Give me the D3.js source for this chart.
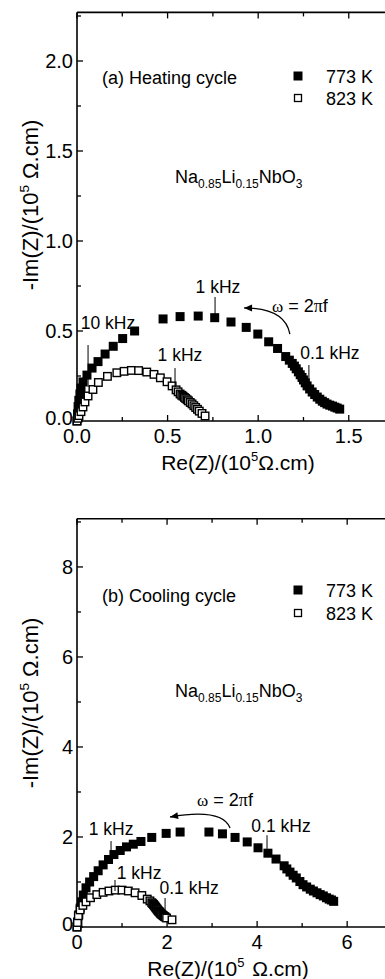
<!DOCTYPE html>
<html><head><meta charset="utf-8">
<script src="https://cdn.jsdelivr.net/npm/d3@7/dist/d3.min.js"></script>
<style>
html,body{margin:0;padding:0;background:#fff;}
svg text{font-family:"Liberation Sans",Arial,sans-serif;fill:#000;}
</style></head>
<body><svg id="c" width="385" height="979"></svg>
<script>
// ---- Data (Re, -Im) in 10^5 ohm.cm ----
const heat773 = [[0,0],[0.003,0.04],[0.006,0.08],[0.01,0.115],[0.016,0.15],[0.022,0.183],[0.033,0.217],[0.055,0.255],[0.083,0.294],[0.116,0.33],[0.155,0.372],[0.2,0.415],[0.252,0.458],[0.318,0.5],[0.475,0.567],[0.569,0.58],[0.669,0.583],[0.76,0.574],[0.85,0.55],[0.934,0.52],[0.998,0.483],[1.058,0.44],[1.107,0.403],[1.152,0.358],[1.172,0.338],[1.188,0.32],[1.2,0.305],[1.21,0.29],[1.222,0.273],[1.232,0.257],[1.242,0.242],[1.25,0.228],[1.26,0.212],[1.27,0.195],[1.284,0.178],[1.298,0.161],[1.312,0.147],[1.326,0.133],[1.34,0.121],[1.354,0.11],[1.367,0.102],[1.38,0.094],[1.395,0.088],[1.41,0.083],[1.423,0.077],[1.436,0.072],[1.45,0.066]];
const heat823 = [[0,0],[0.005,0.015],[0.011,0.03],[0.022,0.052],[0.033,0.078],[0.044,0.106],[0.061,0.139],[0.088,0.175],[0.118,0.214],[0.168,0.248],[0.22,0.268],[0.26,0.276],[0.3,0.281],[0.34,0.28],[0.385,0.272],[0.425,0.259],[0.46,0.24],[0.497,0.218],[0.525,0.195],[0.547,0.173],[0.558,0.162],[0.569,0.15],[0.578,0.143],[0.585,0.138],[0.593,0.131],[0.6,0.125],[0.608,0.118],[0.615,0.112],[0.625,0.103],[0.635,0.095],[0.645,0.085],[0.655,0.075],[0.665,0.065],[0.675,0.055],[0.69,0.042],[0.707,0.028]];
const cool773 = [[0,0],[0.02,0.12],[0.04,0.27],[0.07,0.42],[0.1,0.56],[0.14,0.71],[0.2,0.87],[0.28,1.0],[0.37,1.12],[0.47,1.25],[0.58,1.38],[0.7,1.5],[0.82,1.61],[0.96,1.7],[1.1,1.78],[1.25,1.84],[1.42,1.9],[1.66,1.99],[1.98,2.08],[2.29,2.11],[2.93,2.11],[3.23,2.07],[3.51,1.99],[3.78,1.89],[4.02,1.76],[4.24,1.64],[4.42,1.51],[4.6,1.36],[4.66,1.29],[4.73,1.22],[4.8,1.15],[4.87,1.09],[4.95,1.01],[5.02,0.94],[5.1,0.89],[5.18,0.84],[5.25,0.8],[5.33,0.76],[5.4,0.72],[5.47,0.69],[5.54,0.65],[5.6,0.62],[5.65,0.6],[5.7,0.57]];
const cool823 = [[0,0],[0.01,0.1],[0.03,0.25],[0.07,0.38],[0.13,0.48],[0.2,0.56],[0.3,0.65],[0.44,0.72],[0.58,0.77],[0.71,0.8],[0.85,0.82],[1.0,0.82],[1.14,0.8],[1.29,0.76],[1.44,0.7],[1.56,0.62],[1.62,0.58],[1.66,0.54],[1.68,0.52],[1.7,0.5],[1.715,0.48],[1.73,0.46],[1.745,0.44],[1.76,0.42],[1.775,0.4],[1.79,0.38],[1.805,0.36],[1.82,0.345],[1.835,0.33],[1.85,0.31],[1.865,0.295],[1.88,0.28],[1.9,0.265],[1.92,0.25],[1.94,0.235],[1.96,0.22],[1.99,0.2],[2.11,0.16]];

const xTicksA = [0,0.5,1.0,1.5], yTicksA = [0,0.5,1.0,1.5,2.0];
const xTicksB = [0,2,4,6], yTicksB = [0,2,4,6,8];

const svg = d3.select("#c");

function superTitle(t, parts, size){
  parts.forEach(p=>{
    const ts = t.append("tspan").text(p[0]);
    if(p[1]==="sup"){ ts.attr("font-size", size*0.62).attr("dy", -size*0.42); }
    else if(p[1]==="after"){ ts.attr("dy", size*0.42); if(p[2]) ts.attr("dx", p[2]); }
  });
}

function panel(cfg){
  const x = d3.scaleLinear().domain(cfg.xd).range([77,385]);
  const y = d3.scaleLinear().domain(cfg.yd).range(cfg.yr);
  const g = svg.append("g");
  const y0 = cfg.yr[0], yTop = cfg.yr[1];
  const minor = d3.range(cfg.xd[0], cfg.xd[1]+1e-9, cfg.xMinor);
  minor.forEach(v=>{
    const isMaj = Math.abs(v/cfg.xMajor - Math.round(v/cfg.xMajor))<1e-6;
    const L = isMaj?6:4;
    g.append("line").attr("x1",x(v)).attr("x2",x(v)).attr("y1",y0).attr("y2",y0-L).attr("stroke","#000").attr("stroke-width",1.3);
    g.append("line").attr("x1",x(v)).attr("x2",x(v)).attr("y1",yTop).attr("y2",yTop+L).attr("stroke","#000").attr("stroke-width",1.3);
  });
  const yminor = d3.range(cfg.yd[0], cfg.yd[1]+1e-9, cfg.yMinor);
  yminor.forEach(v=>{
    const isMaj = Math.abs(v/cfg.yMajor - Math.round(v/cfg.yMajor))<1e-6;
    const L = isMaj?6:4;
    g.append("line").attr("x1",77).attr("x2",77+L).attr("y1",y(v)).attr("y2",y(v)).attr("stroke","#000").attr("stroke-width",1.3);
  });
  g.append("line").attr("x1",77).attr("x2",385).attr("y1",y0).attr("y2",y0).attr("stroke","#000").attr("stroke-width",1.6);
  g.append("line").attr("x1",77).attr("x2",385).attr("y1",yTop).attr("y2",yTop).attr("stroke","#000").attr("stroke-width",1.6);
  g.append("line").attr("x1",77).attr("x2",77).attr("y1",y0).attr("y2",yTop).attr("stroke","#000").attr("stroke-width",1.6);
  cfg.xt.forEach(v=>g.append("text").attr("x",x(v)).attr("y",y0+22).attr("text-anchor","middle").attr("font-size",20).text(cfg.fmt(v)));
  cfg.yt.forEach(v=>g.append("text").attr("x",73).attr("y",y(v)+(v===0?4:7)).attr("text-anchor","end").attr("font-size",20).text(cfg.fmt(v)));
  const xt = g.append("text").attr("x",cfg.xTitleX).attr("y",cfg.xTitleY).attr("text-anchor","middle").attr("font-size",21);
  superTitle(xt, cfg.xTitleParts, 21);
  const yt = g.append("text").attr("transform",`translate(38,${cfg.yTitleY}) rotate(-90)`).attr("text-anchor","middle").attr("font-size",22);
  superTitle(yt, [["-Im(Z)/(10",""],["5","sup"],[" \u03A9.cm)","after"]], 22);
  const s1 = 9, s2 = 7.5;
  g.selectAll(".f").data(cfg.d1).enter().append("rect")
    .attr("x",d=>x(d[0])-s1/2).attr("y",d=>y(d[1])-s1/2).attr("width",s1).attr("height",s1).attr("fill","#000");
  g.selectAll(".o").data(cfg.d2).enter().append("rect")
    .attr("x",d=>x(d[0])-s2/2).attr("y",d=>y(d[1])-s2/2).attr("width",s2).attr("height",s2).attr("fill","#fff").attr("stroke","#000").attr("stroke-width",1.4);
  cfg.ann.forEach(a=>{
    g.append("text").attr("x",x(a.tx)).attr("y",y(a.ty)).attr("text-anchor","middle").attr("font-size",17.5).text(a.t);
    g.append("line").attr("x1",x(a.lx)).attr("x2",x(a.lx)).attr("y1",y(a.l1)).attr("y2",y(a.l2)).attr("stroke","#000").attr("stroke-width",1);
  });
  const om = g.append("text").attr("x",x(cfg.om[0])).attr("y",y(cfg.om[1])).attr("font-size",18);
  om.append("tspan").attr("font-family","Liberation Serif,serif").attr("font-size",17).text("\u03C9");
  om.append("tspan").text(" = 2");
  om.append("tspan").attr("font-family","Liberation Serif,serif").text("\u03C0");
  om.append("tspan").text("f");
  const A = cfg.arrow;
  const p = d3.path();
  p.moveTo(x(A[0][0]),y(A[0][1]));
  p.quadraticCurveTo(x(A[1][0]),y(A[1][1]),x(A[2][0]),y(A[2][1]));
  g.append("path").attr("d",p.toString()).attr("fill","none").attr("stroke","#000").attr("stroke-width",1.3);
  const ex = x(A[2][0]), ey = y(A[2][1]);
  const ang = Math.atan2(ey - y(A[1][1]), ex - x(A[1][0]));
  const hl = 8, hw = 3.5;
  const bx = ex - hl*Math.cos(ang), by = ey - hl*Math.sin(ang);
  g.append("path").attr("d",`M${ex},${ey}L${bx - hw*Math.sin(ang)},${by + hw*Math.cos(ang)}L${bx + hw*Math.sin(ang)},${by - hw*Math.cos(ang)}Z`).attr("fill","#000");
  g.append("text").attr("x",102).attr("y",cfg.lblY).attr("font-size",18).text(cfg.label);
  g.append("rect").attr("x",298-4.5).attr("y",cfg.legY1-4.5).attr("width",9).attr("height",9).attr("fill","#000");
  g.append("rect").attr("x",298-3.5).attr("y",cfg.legY2-3.5).attr("width",7).attr("height",7).attr("fill","#fff").attr("stroke","#000").attr("stroke-width",1.3);
  g.append("text").attr("x",326).attr("y",cfg.legY1+7).attr("font-size",18).text("773 K");
  g.append("text").attr("x",326).attr("y",cfg.legY2+7).attr("font-size",18).text("823 K");
  const f = g.append("text").attr("x",175).attr("y",cfg.formY).attr("font-size",18);
  f.append("tspan").text("Na");
  f.append("tspan").attr("font-size",12).attr("dy",5).text("0.85");
  f.append("tspan").attr("dy",-5).text("Li");
  f.append("tspan").attr("font-size",12).attr("dy",5).text("0.15");
  f.append("tspan").attr("dy",-5).text("NbO");
  f.append("tspan").attr("font-size",12).attr("dy",5).text("3");
}

panel({
  xd:[0,1.7], yd:[0,2.27], yr:[421,12.4], xMinor:0.25, xMajor:0.5, yMinor:0.25, yMajor:0.5,
  xt:xTicksA, yt:yTicksA, fmt:d3.format(".1f"),
  xTitleX:238, xTitleY:470, xTitleParts:[["Re(Z)/(10",""],["5","sup"],["\u03A9.cm)","after"]],
  yTitleY:205,
  d1:heat773, d2:heat823,
  ann:[
    {t:"10 kHz", tx:0.171, ty:0.511, lx:0.061, l1:0.422, l2:0.189},
    {t:"1 kHz", tx:0.778, ty:0.711, lx:0.762, l1:0.689, l2:0.589},
    {t:"1 kHz", tx:0.568, ty:0.333, lx:0.541, l1:0.294, l2:0.189},
    {t:"0.1 kHz", tx:1.396, ty:0.344, lx:1.28, l1:0.311, l2:0.211}
  ],
  om:[1.076,0.606],
  arrow:[[1.175,0.483],[1.148,0.628],[0.922,0.628]],
  label:"(a) Heating cycle", lblY:84, legY1:76, legY2:98, formY:183
});
panel({
  xd:[0,6.84], yd:[0,9.07], yr:[927,518.8], xMinor:1, xMajor:2, yMinor:1, yMajor:2,
  xt:xTicksB, yt:yTicksB, fmt:d3.format("d"),
  xTitleX:228, xTitleY:976, xTitleParts:[["Re(Z)/(10",""],["5","sup"],[" \u03A9.cm)","after",2]],
  yTitleY:703,
  d1:cool773, d2:cool823,
  ann:[
    {t:"1 kHz", tx:0.756, ty:2.04, lx:0.756, l1:1.91, l2:1.556},
    {t:"1 kHz", tx:1.378, ty:1.067, lx:0.844, l1:1.044, l2:0.8},
    {t:"0.1 kHz", tx:2.49, ty:0.733, lx:1.956, l1:0.644, l2:0.333},
    {t:"0.1 kHz", tx:4.53, ty:2.11, lx:4.22, l1:2.04, l2:1.667}
  ],
  om:[2.667,2.69],
  arrow:[[3.4,2.2],[3.222,2.644],[2.067,2.444]],
  label:"(b) Cooling cycle", lblY:602, legY1:590, legY2:613, formY:697
});
</script></body></html>
